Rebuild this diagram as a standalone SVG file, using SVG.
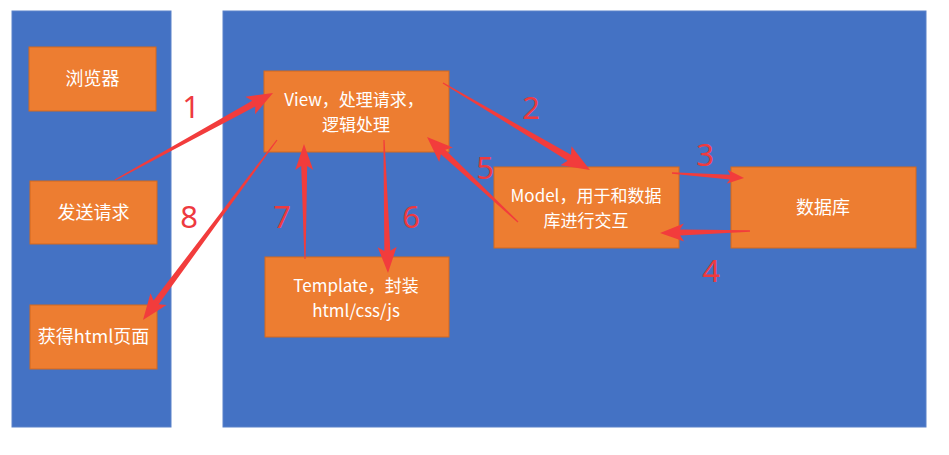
<svg xmlns="http://www.w3.org/2000/svg" width="949" height="455" viewBox="0 0 949 455">
<style>
.panel{fill:#4472C4;stroke:#5B82C9;stroke-width:1}
.box{fill:#ED7D31;stroke:#D2691E;stroke-width:1}
.t{font-family:"Noto Sans CJK SC","Noto Sans",sans-serif;font-size:18px;fill:#FFFFFF;text-anchor:middle}
.t2{font-size:17px}
.arrow{fill:#F23C3C}
.num{font-family:"Noto Sans","Liberation Sans",sans-serif;font-size:31px;fill:#EE3A3F;text-anchor:middle}
</style>
<rect width="949" height="455" fill="#FFFFFF"/>
<rect class="panel" x="12" y="11" width="159" height="416"/>
<rect class="panel" x="223" y="11" width="703" height="416"/>

<g id="browser"><rect class="box" x="29" y="47" width="127" height="64"/><text class="t" x="92.5" y="85">浏览器</text></g>
<g id="send"><rect class="box" x="30" y="181" width="127" height="63"/><text class="t" x="93.5" y="219">发送请求</text></g>
<g id="get"><rect class="box" x="30" y="305" width="127" height="64"/><text class="t" x="93.5" y="343">获得html页面</text></g>
<g id="view"><rect class="box" x="264" y="71" width="185" height="81"/><text class="t t2" x="354" y="106">View，处理请求，</text><text class="t t2" x="356" y="131">逻辑处理</text></g>
<g id="model"><rect class="box" x="494" y="167" width="185" height="81"/><text class="t t2" x="586" y="202">Model，用于和数据</text><text class="t t2" x="586" y="227">库进行交互</text></g>
<g id="db"><rect class="box" x="731" y="167" width="185" height="81"/><text class="t" x="823" y="214">数据库</text></g>
<g id="template"><rect class="box" x="265" y="257" width="184" height="80"/><text class="t t2" x="356" y="292">Template，封装</text><text class="t t2" x="356" y="317">html/css/js</text></g>

<g id="connectors">
<path class="arrow" transform="translate(115,180) rotate(-28.84)" d="M0,-0.6 L158.4,-3.2 L154.4,-10 L180.4,0 L154.4,10 L158.4,3.2 L0,0.6 Z"/>
<path class="arrow" transform="translate(443,83) rotate(30.62)" d="M0,-0.6 L146.8,-3.4 L142.8,-11 L170.8,0 L142.8,11 L146.8,3.4 L0,0.6 Z"/>
<path class="arrow" transform="translate(672,173) rotate(3.97)" d="M0,-0.8 L58.2,-2.4 L55.2,-7 L72.2,0 L55.2,7 L58.2,2.4 L0,0.8 Z"/>
<path class="arrow" transform="translate(750,231) rotate(178.73)" d="M0,-0.8 L70,-3 L66,-9 L90,0 L66,9 L70,3 L0,0.8 Z"/>
<path class="arrow" transform="translate(518,222) rotate(-136.95)" d="M0,-0.6 L102.5,-3.2 L98.5,-10 L124.5,0 L98.5,10 L102.5,3.2 L0,0.6 Z"/>
<path class="arrow" transform="translate(384,140) rotate(88.28)" d="M0,-0.6 L111,-3 L107,-9.5 L133,0 L107,9.5 L111,3 L0,0.6 Z"/>
<path class="arrow" transform="translate(305,259) rotate(-90.5)" d="M0,-0.6 L93,-3 L89,-9 L115,0 L89,9 L93,3 L0,0.6 Z"/>
<path class="arrow" transform="translate(277,140) rotate(126.67)" d="M0,-0.6 L202.4,-3.2 L198.4,-10 L224.4,0 L198.4,10 L202.4,3.2 L0,0.6 Z"/>
</g>

<g id="labels">
<text class="num" x="191" y="118">1</text>
<text class="num" x="531" y="119">2</text>
<text class="num" x="705" y="166">3</text>
<text class="num" x="711" y="282">4</text>
<text class="num" x="485" y="179">5</text>
<text class="num" x="411" y="228">6</text>
<text class="num" x="282" y="228">7</text>
<text class="num" x="189" y="228">8</text>
</g>
</svg>
